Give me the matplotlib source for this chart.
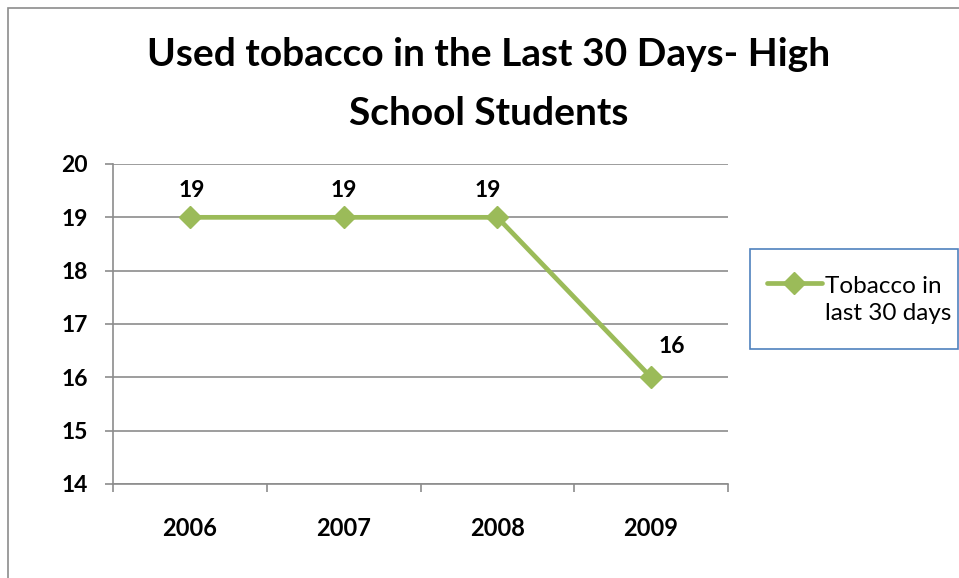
import matplotlib
matplotlib.use("Agg")
import matplotlib.pyplot as plt
from matplotlib.patches import Rectangle
from matplotlib.lines import Line2D

years = ["2006", "2007", "2008", "2009"]
values = [19, 19, 19, 16]
yticks = [14, 15, 16, 17, 18, 19, 20]
series_name = "Tobacco in\nlast 30 days"
title = "Used tobacco in the Last 30 Days- High\nSchool Students"

W, H = 959, 578
fig = plt.figure(figsize=(W / 100, H / 100), dpi=100)
plt.rcParams['font.family'] = ['Lato', 'DejaVu Sans']

def fx(px):
    return px / W

def fy(py):
    return 1 - py / H

# outer chart border
fig.patches.append(Rectangle((fx(8), fy(H + 5)), fx(W + 5), fy(8) - fy(H + 5),
                             transform=fig.transFigure, fill=False,
                             edgecolor='#8c8c8c', linewidth=1.2))

ax = fig.add_axes([fx(113), fy(484), fx(728) - fx(113), fy(164) - fy(484)])
green = '#9BBB59'
grid = '#8c8c8c'
x = list(range(len(years)))
ax.plot(x, values, color=green, linewidth=3.4, marker='D', markersize=11,
        markerfacecolor=green, markeredgecolor=green, solid_joinstyle='miter')
label_offsets = [(1, 19), (0, 19), (-7, 19), (15, 22)]
for xi, v, off in zip(x, values, label_offsets):
    ax.annotate(f"{v}", (xi, v), xytext=off, textcoords='offset points',
                ha='center', va='center', fontsize=16.5, fontweight='bold')

ax.set_xlim(-0.5, len(years) - 0.5)
ax.set_ylim(14, 20)
ax.set_yticks(yticks)
ax.set_yticklabels([str(t) for t in yticks], fontsize=16.5, fontweight='bold')
ax.set_xticks(x)
ax.set_xticklabels(years, fontsize=17, fontweight='bold')
ax.tick_params(axis='x', length=0, pad=24)
ax.set_xticks([i - 0.5 for i in range(len(years) + 1)], minor=True)
ax.tick_params(axis='x', which='minor', length=6, color=grid, width=1.2)
ax.tick_params(axis='y', length=6, color=grid, width=1.2, pad=12)
ax.grid(axis='y', color=grid, linewidth=1.2)
ax.set_axisbelow(True)
for s in ['top', 'right']:
    ax.spines[s].set_visible(False)
for s in ['left', 'bottom']:
    ax.spines[s].set_color(grid)
    ax.spines[s].set_linewidth(1.2)

fig.text(0.5 * (fx(150) + fx(828)), fy(84), title, ha='center', va='center',
         fontsize=28, fontweight='bold', linespacing=1.8)

# legend drawn by hand
fig.patches.append(Rectangle((fx(750), fy(349)), fx(958) - fx(750), fy(249) - fy(349),
                             transform=fig.transFigure, fill=False,
                             edgecolor='#4F81BD', linewidth=1.2))
fig.lines.append(Line2D([fx(767), fx(822)], [fy(283), fy(283)],
                        transform=fig.transFigure, color=green, linewidth=3.4,
                        solid_capstyle='round'))
fig.lines.append(Line2D([0.5 * (fx(767) + fx(822))], [fy(283)],
                        transform=fig.transFigure, color=green, marker='D',
                        markersize=11, markeredgecolor=green))
fig.text(fx(825), fy(300), series_name, ha='left', va='center',
         fontsize=17.5, linespacing=1.35)

fig.savefig("out.png", dpi=100)
